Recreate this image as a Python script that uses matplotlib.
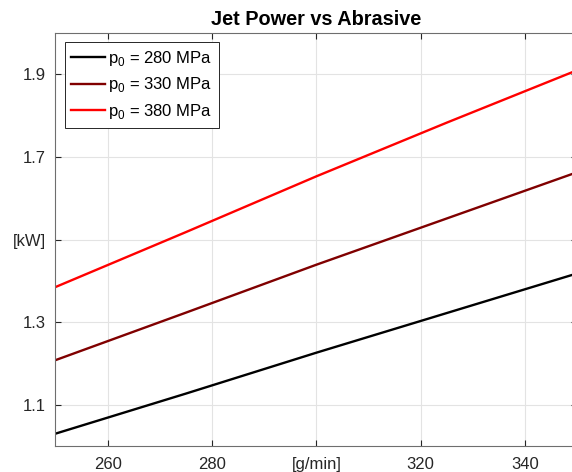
import matplotlib.pyplot as plt

# abrasive flow [g/min] and jet power [kW]
abrasive = [250, 275, 300, 325, 350]
p280 = [1.030, 1.127, 1.226, 1.322, 1.418]
p330 = [1.208, 1.323, 1.439, 1.551, 1.663]
p380 = [1.385, 1.518, 1.653, 1.783, 1.910]
labels = ['p$_0$ = 280 MPa', 'p$_0$ = 330 MPa', 'p$_0$ = 380 MPa']
colors = ['#000000', '#800000', '#ff0000']

xticks = [260, 280, 300, 320, 340]
xticklabels = ['260', '280', '[g/min]', '320', '340']
yticks = [1.1, 1.3, 1.5, 1.7, 1.9]
yticklabels = ['1.1', '1.3', '[kW]', '1.7', '1.9']

plt.rcParams['font.family'] = ['Liberation Sans', 'DejaVu Sans']
plt.rcParams['mathtext.fontset'] = 'custom'
plt.rcParams['mathtext.rm'] = 'Liberation Sans'

fig = plt.figure(figsize=(5.72, 4.72), dpi=100)
ax = fig.add_axes([0.097, 0.055, 0.912, 0.875])

for ys, lab, c in zip([p280, p330, p380], labels, colors):
    ax.plot(abrasive, ys, color=c, lw=1.7, label=lab)

ax.set_xlim(250, 350)
ax.set_ylim(1.0, 2.0)
ax.set_xticks(xticks)
ax.set_xticklabels(xticklabels)
ax.set_yticks(yticks)
ax.set_yticklabels(yticklabels)
ax.grid(True, color='#e3e3e3', lw=0.8)
ax.set_axisbelow(True)
ax.tick_params(direction='in', length=4, top=True, right=True, labelsize=12,
               colors='#262626')
ax.tick_params(axis='x', pad=8)
ax.tick_params(axis='y', pad=7)
for s in ax.spines.values():
    s.set_color('#6e6e6e')
    s.set_linewidth(0.8)

ax.set_title('Jet Power vs Abrasive', fontsize=14.3, fontweight='bold', pad=6)

leg = ax.legend(loc='upper left', fontsize=12, fancybox=False, framealpha=1,
                edgecolor='#262626', borderaxespad=0.55, handlelength=2.0,
                handletextpad=0.2, labelspacing=0.45, borderpad=0.4)
leg.get_frame().set_linewidth(0.7)

fig.savefig('out.png', dpi=100)
